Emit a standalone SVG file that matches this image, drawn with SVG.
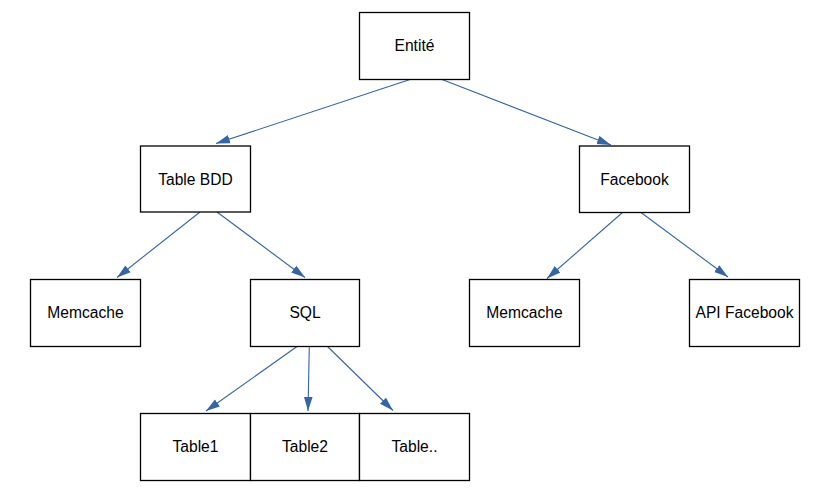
<svg xmlns="http://www.w3.org/2000/svg" width="826" height="504" viewBox="0 0 826 504">
<defs>
<style>
.box{fill:#fff;stroke:#000;stroke-width:1.3}
.lbl{font-family:"Liberation Sans",Arial,sans-serif;font-size:15.6px;fill:#000;text-anchor:middle}
.edge{stroke:#3465a4;stroke-width:1.1;fill:none}
</style>
<marker id="arr" markerUnits="userSpaceOnUse" markerWidth="14" markerHeight="10" viewBox="0 0 13 8" refX="13" refY="4" orient="auto">
<path d="M0,0 L13,4 L0,8 Z" fill="#3465a4"/>
</marker>
</defs>
<rect width="826" height="504" fill="#fff"/>
<g id="connectors">
<line class="edge" x1="410" y1="79.5" x2="216" y2="143.5" marker-end="url(#arr)"/>
<line class="edge" x1="442" y1="79.5" x2="611" y2="145" marker-end="url(#arr)"/>
<line class="edge" x1="200" y1="212" x2="117" y2="277.5" marker-end="url(#arr)"/>
<line class="edge" x1="217" y1="212" x2="305" y2="277.5" marker-end="url(#arr)"/>
<line class="edge" x1="297" y1="346.5" x2="206" y2="411" marker-end="url(#arr)"/>
<line class="edge" x1="309.3" y1="346.5" x2="308" y2="411" marker-end="url(#arr)"/>
<line class="edge" x1="327.5" y1="346.5" x2="393" y2="410.5" marker-end="url(#arr)"/>
<line class="edge" x1="622.5" y1="212.5" x2="547" y2="278.5" marker-end="url(#arr)"/>
<line class="edge" x1="641" y1="212.5" x2="728" y2="277" marker-end="url(#arr)"/>
</g>
<g id="entite"><rect class="box" x="359.5" y="12.5" width="110" height="67"/><text class="lbl" x="414.5" y="51">Entité</text></g>
<g id="tablebdd"><rect class="box" x="140.5" y="146" width="110" height="66"/><text class="lbl" x="195.5" y="184.5">Table BDD</text></g>
<g id="facebook"><rect class="box" x="579.5" y="146" width="110" height="66.5"/><text class="lbl" x="634.5" y="184.5">Facebook</text></g>
<g id="memcache1"><rect class="box" x="30.5" y="279.5" width="110" height="67"/><text class="lbl" x="85.5" y="317.5">Memcache</text></g>
<g id="sql"><rect class="box" x="250.5" y="279.5" width="109" height="67"/><text class="lbl" x="305" y="317.5">SQL</text></g>
<g id="memcache2"><rect class="box" x="469.5" y="279.5" width="110" height="67"/><text class="lbl" x="524.5" y="317.5">Memcache</text></g>
<g id="apifacebook"><rect class="box" x="689.5" y="279.5" width="110" height="67"/><text class="lbl" x="744.5" y="317.5">API Facebook</text></g>
<g id="table1"><rect class="box" x="140.5" y="413.5" width="110" height="67"/><text class="lbl" x="195.5" y="451.5">Table1</text></g>
<g id="table2"><rect class="box" x="250.5" y="413.5" width="109" height="67"/><text class="lbl" x="305" y="451.5">Table2</text></g>
<g id="tabledots"><rect class="box" x="359.5" y="413.5" width="110" height="67"/><text class="lbl" x="414.5" y="451.5">Table..</text></g>
</svg>
